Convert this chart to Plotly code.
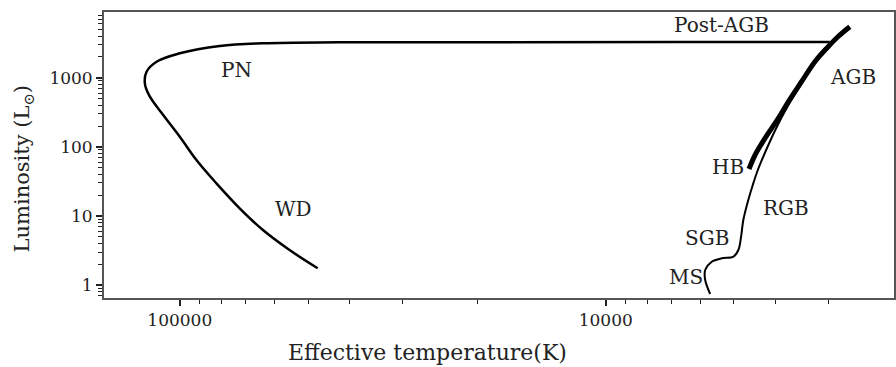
import math
import plotly.graph_objects as go

# --- data (effective temperature K, luminosity Lsun) ---
rgb_T = [5687, 5841, 5841, 5636, 5341, 5013, 4882, 4811, 4753, 4627, 4516, 4395, 4221, 3977, 3737, 3475, 3240, 3036]
rgb_L = [0.741, 1.181, 1.649, 2.174, 2.434, 2.568, 3.21, 5.0, 8.72, 17.0, 28.0, 46.2, 84.1, 187, 389, 811, 1632, 2782]

agb_T = [4609, 4460, 4227, 3934, 3727, 3470, 3228, 3005, 2846, 2673]
agb_L = [47.7, 76.1, 133, 258, 449, 875, 1704, 2809, 3947, 5470]

post_T = [2977, 6057, 17810, 42200, 63810, 80600, 100000, 113400, 119700, 120800, 118100,
          109400, 100000, 91400, 82040, 72360, 63810, 55250, 47450]
post_L = [3285, 3285, 3265, 3250, 3147, 2876, 2255, 1704, 1221, 830, 560,
          288.6, 140, 64.4, 29.6, 12.9, 6.25, 3.21, 1.745]

label_text = ["Post-AGB", "PN", "AGB", "HB", "RGB", "SGB", "MS", "WD"]
label_T = [5349, 73540, 2626, 5151, 3769, 5800, 6496, 54080]
label_L = [5790, 1292, 1023, 51.0, 13.0, 4.79, 1.31, 12.6]

x_tick_vals = [100000, 10000]
x_tick_text = ["100000", "10000"]
y_tick_vals = [1, 10, 100, 1000]
y_tick_text = ["1", "10", "100", "1000"]
x_title = "Effective temperature(K)"
y_title = "Luminosity (L<sub>⊙</sub>)"

x_minor = [m * 10 ** k for k in (3, 4, 5) for m in range(2, 10) if 2100 <= m * 10 ** k <= 150000]
y_minor = [m * 10 ** k for k in (-1, 0, 1, 2, 3) for m in range(2, 10) if 0.66 <= m * 10 ** k <= 8900]

FONT = "DejaVu Serif"
fig = go.Figure()
fig.add_trace(go.Scatter(x=rgb_T, y=rgb_L, mode="lines",
                         line=dict(color="black", width=2.0, shape="spline", smoothing=1.0),
                         showlegend=False))
fig.add_trace(go.Scatter(x=agb_T, y=agb_L, mode="lines",
                         line=dict(color="black", width=5, shape="spline", smoothing=1.0),
                         showlegend=False))
fig.add_trace(go.Scatter(x=post_T, y=post_L, mode="lines",
                         line=dict(color="black", width=2.5, shape="spline", smoothing=1.1),
                         showlegend=False))

for t, xv, yv in zip(label_text, label_T, label_L):
    fig.add_annotation(x=math.log10(xv), y=math.log10(yv), text=t, showarrow=False,
                       font=dict(family=FONT, size=20, color="#222"),
                       xanchor="center", yanchor="middle")

# axis titles (placed as in the reference, which is cropped on the right)
fig.add_annotation(xref="paper", yref="paper", x=0.410, y=-0.189, text=x_title, showarrow=False,
                   font=dict(family=FONT, size=22, color="#222"), xanchor="center", yanchor="middle")
fig.add_annotation(xref="paper", yref="paper", x=-0.102, y=0.451, text=y_title, showarrow=False,
                   textangle=-90, font=dict(family=FONT, size=21, color="#222"),
                   xanchor="center", yanchor="middle")

axis_common = dict(showline=True, linecolor="#555", linewidth=1.8, mirror=True,
                   showgrid=False, zeroline=False, ticks="outside", ticklen=6,
                   tickcolor="#222", tickwidth=1.5,
                   tickfont=dict(family=FONT, size=17, color="#222"))

fig.update_xaxes(type="log", range=[5.178, 3.3232], tickvals=x_tick_vals, ticktext=x_tick_text,
                 minor=dict(tickvals=x_minor, ticks="outside", ticklen=4, tickcolor="#222", tickwidth=1.2),
                 **axis_common)
fig.update_yaxes(type="log", range=[-0.188, 3.951], tickvals=y_tick_vals, ticktext=y_tick_text,
                 minor=dict(tickvals=y_minor, ticks="outside", ticklen=4, tickcolor="#222", tickwidth=1.2),
                 **axis_common)

fig.update_layout(width=896, height=367, margin=dict(l=104, r=0, t=12, b=69),
                  plot_bgcolor="white", paper_bgcolor="white")
fig.write_html("out.html")
